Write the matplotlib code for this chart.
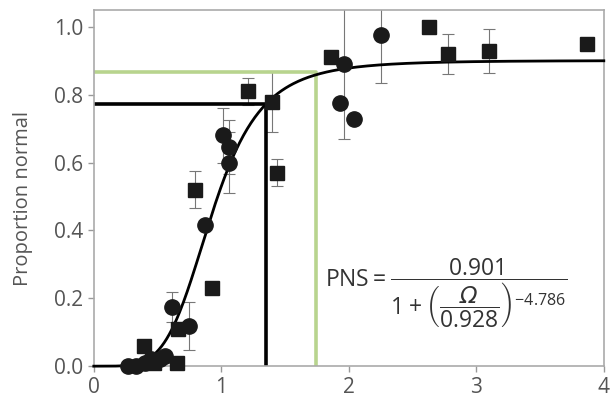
import numpy as np
import matplotlib
matplotlib.use("Agg")
import matplotlib.pyplot as plt

plt.rcParams["font.family"] = ["Open Sans", "DejaVu Sans"]
plt.rcParams["mathtext.fontset"] = "custom"
plt.rcParams["mathtext.rm"] = "Open Sans"
plt.rcParams["mathtext.sf"] = "DejaVu Sans:italic"  # used for the slanted Omega

# fitted model parameters (shown on the chart)
pns_max = 0.901
omega50 = 0.928
slope = -4.786

# square markers: x, y, error
sq_x = [0.39, 0.47, 0.65, 0.66, 0.79, 0.93, 1.21, 1.40, 1.44, 1.86, 2.63, 2.78, 3.10, 3.87]
sq_y = [0.06, 0.01, 0.01, 0.11, 0.52, 0.23, 0.81, 0.78, 0.57, 0.91, 1.00, 0.92, 0.93, 0.95]
sq_err = [0, 0, 0, 0, 0.055, 0, 0.04, 0.09, 0.04, 0, 0, 0.06, 0.065, 0]

# circle markers: x, y, error
ci_x = [0.27, 0.33, 0.40, 0.45, 0.52, 0.56, 0.61, 0.75, 0.87, 1.01, 1.06, 1.06, 1.93, 1.96, 2.04, 2.25]
ci_y = [0.00, 0.00, 0.01, 0.02, 0.02, 0.03, 0.175, 0.118, 0.415, 0.68, 0.646, 0.60, 0.776, 0.89, 0.73, 0.976]
ci_err = [0, 0, 0, 0, 0, 0, 0.045, 0.07, 0, 0.08, 0.08, 0.09, 0, 0.22, 0, 0.14]

# reference lines
black_x, black_y = 1.35, 0.773
green_x, green_y = 1.745, 0.867

fig = plt.figure(figsize=(6.13, 3.98), dpi=100)
ax = fig.add_axes([0.153, 0.080, 0.832, 0.895])

# reference lines
ax.plot([0, black_x, black_x], [black_y, black_y, 0], color="black", lw=2.6, zorder=2)
ax.plot([0, green_x, green_x], [green_y, green_y, 0], color="#b8d48e", lw=2.6, zorder=2)

# fitted curve
xs = np.linspace(0.001, 4, 400)
ys = pns_max / (1 + (xs / omega50) ** slope)
ax.plot(np.r_[0, xs], np.r_[0, ys], color="black", lw=2, zorder=3, clip_on=False)

# error bars
ax.errorbar(sq_x, sq_y, yerr=sq_err, fmt="none", ecolor="#777777", elinewidth=0.8,
            capsize=4, capthick=0.8, zorder=1)
ax.errorbar(ci_x, ci_y, yerr=ci_err, fmt="none", ecolor="#777777", elinewidth=0.8,
            capsize=4, capthick=0.8, zorder=1)

# markers
ax.plot(sq_x, sq_y, "s", color="#1a1a1a", ms=10, zorder=4, clip_on=False)
ax.plot(ci_x, ci_y, "o", color="#1a1a1a", ms=11, zorder=4, clip_on=False)

ax.set_xlim(0, 4)
ax.set_ylim(0, 1.05)
ax.set_xticks([0, 1, 2, 3, 4])
ax.set_yticks([0.0, 0.2, 0.4, 0.6, 0.8, 1.0])
ax.set_yticklabels(["0.0", "0.2", "0.4", "0.6", "0.8", "1.0"])
ax.tick_params(labelsize=15, colors="#999999", labelcolor="#555555", length=4, width=1)
for s in ax.spines.values():
    s.set_color("#aaaaaa")
    s.set_linewidth(1.2)
ax.set_ylabel("Proportion normal", fontsize=14.5, color="#555555")
ax.yaxis.set_label_coords(-0.12, 0.47)

ax.text(0.453, 0.205,
        r"$\mathrm{PNS} = \dfrac{0.901}{1+\left(\dfrac{\mathsf{Ω}}{0.928}\right)^{-4.786}}$",
        transform=ax.transAxes, fontsize=16.5, color="#333333", va="center", ha="left")

fig.savefig("out.png", dpi=100)
